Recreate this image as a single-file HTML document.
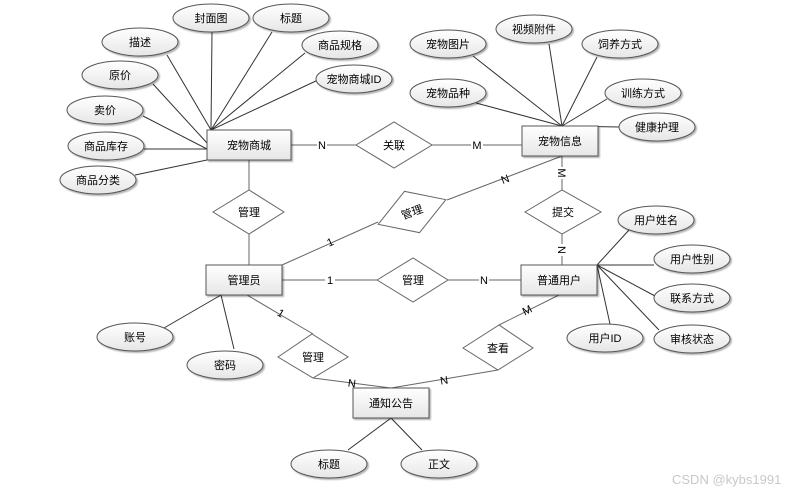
<!DOCTYPE html>
<html><head><meta charset="utf-8"><style>
html,body{margin:0;padding:0;background:#fff;}
svg{display:block;}
text{font-family:"Liberation Sans","Noto Sans CJK SC",sans-serif;font-size:11px;fill:#000;}
.l{stroke:#333;stroke-width:1;fill:none;}
.g{stroke:#666;stroke-width:1;fill:none;}
.e{fill:url(#gr);stroke:#555;stroke-width:1;filter:url(#sh);}
.r{fill:url(#gr);stroke:#555;stroke-width:1;filter:url(#sh);}
.d{fill:#fff;stroke:#666;stroke-width:1;}
.lb{fill:#fff;}
</style></head><body>
<svg width="809" height="495" viewBox="0 0 809 495" xmlns="http://www.w3.org/2000/svg">
<defs>
<linearGradient id="gr" x1="0" y1="0" x2="0" y2="1"><stop offset="0" stop-color="#ffffff"/><stop offset="1" stop-color="#e6e6e6"/></linearGradient>
<filter id="sh" x="-10%" y="-10%" width="130%" height="140%"><feDropShadow dx="1.5" dy="1.5" stdDeviation="0.8" flood-color="#000" flood-opacity="0.3"/></filter>
</defs>
<!-- attribute lines: 宠物商城 -->
<g class="l">
<line x1="212" y1="32" x2="211" y2="130"/>
<line x1="272" y1="32" x2="211" y2="130"/>
<line x1="167" y1="55" x2="211" y2="130"/>
<line x1="305" y1="53" x2="211" y2="130"/>
<line x1="318" y1="80" x2="211" y2="130"/>
<line x1="153" y1="84" x2="207" y2="143"/>
<line x1="143" y1="116" x2="207" y2="149"/>
<line x1="144" y1="149" x2="207" y2="149"/>
<line x1="135" y1="175" x2="207" y2="160"/>
<!-- 宠物信息 -->
<line x1="473" y1="56" x2="562" y2="126"/>
<line x1="549" y1="44" x2="562" y2="126"/>
<line x1="597" y1="57" x2="562" y2="126"/>
<line x1="476" y1="103" x2="562" y2="126"/>
<line x1="607" y1="99" x2="562" y2="126"/>
<line x1="562" y1="126" x2="619" y2="127"/>
<!-- 普通用户 -->
<line x1="629" y1="230" x2="597" y2="265"/>
<line x1="654" y1="265" x2="597" y2="265"/>
<line x1="655" y1="296" x2="597" y2="265"/>
<line x1="659" y1="330" x2="597" y2="265"/>
<line x1="610" y1="324" x2="597" y2="265"/>
<!-- 管理员 -->
<line x1="164" y1="328" x2="221" y2="295"/>
<line x1="234" y1="349" x2="221" y2="295"/>
<!-- 通知公告 -->
<line x1="348" y1="450" x2="391" y2="418"/>
<line x1="422" y1="450" x2="391" y2="418"/>
</g>
<!-- relation lines -->
<g class="g">
<line x1="291" y1="145" x2="356" y2="145"/>
<line x1="432" y1="145" x2="522" y2="145"/>
<line x1="249" y1="160" x2="249" y2="190"/>
<line x1="249" y1="234" x2="249" y2="265"/>
<line x1="282" y1="265" x2="378" y2="222"/>
<line x1="447" y1="200" x2="562" y2="156"/>
<line x1="562" y1="156" x2="562" y2="190"/>
<line x1="562" y1="234" x2="562" y2="265"/>
<line x1="282" y1="280" x2="377" y2="280"/>
<line x1="448" y1="280" x2="521" y2="280"/>
<line x1="247" y1="295" x2="313" y2="334"/>
<line x1="313" y1="378" x2="391" y2="388"/>
<line x1="498" y1="370" x2="391" y2="388"/>
<line x1="559" y1="295" x2="499" y2="325"/>
</g>
<!-- cardinality labels -->
<g>
<rect class="lb" x="317" y="139" width="10" height="12"/><text x="322" y="149" text-anchor="middle">N</text>
<rect class="lb" x="471" y="139" width="12" height="12"/><text x="477" y="149" text-anchor="middle">M</text>
<text x="330" y="246" text-anchor="middle" transform="rotate(-24 330 242)">1</text>
<text x="505" y="183" text-anchor="middle" transform="rotate(-21 505 179)">N</text>
<rect class="lb" x="556" y="167" width="12" height="12"/><text x="562" y="177" text-anchor="middle" transform="rotate(90 562 173)">M</text>
<rect class="lb" x="556" y="244" width="12" height="12"/><text x="562" y="254" text-anchor="middle" transform="rotate(90 562 250)">N</text>
<rect class="lb" x="325" y="274" width="10" height="12"/><text x="330" y="284" text-anchor="middle">1</text>
<rect class="lb" x="479" y="274" width="10" height="12"/><text x="484" y="284" text-anchor="middle">N</text>
<text x="281" y="317" text-anchor="middle" transform="rotate(30 281 313)">1</text>
<text x="352" y="387" text-anchor="middle" transform="rotate(7 352 383)">N</text>
<text x="444" y="384" text-anchor="middle" transform="rotate(-9 444 380)">N</text>
<text x="527" y="314" text-anchor="middle" transform="rotate(-27 527 310)">M</text>
</g>
<!-- diamonds -->
<polygon class="d" points="356,145 394,122 432,145 394,168"/><text x="394" y="149" text-anchor="middle">关联</text>
<polygon class="d" points="213,212 249,190 284,212 249,234"/><text x="249" y="216" text-anchor="middle">管理</text>
<g transform="rotate(-20 412 212)"><polygon class="d" points="376,212 412,190 448,212 412,234"/><text x="412" y="216" text-anchor="middle">管理</text></g>
<polygon class="d" points="525,212 562,190 601,212 562,234"/><text x="563" y="216" text-anchor="middle">提交</text>
<polygon class="d" points="377,280 413,258 448,280 413,302"/><text x="413" y="284" text-anchor="middle">管理</text>
<polygon class="d" points="278,357 312,334 348,357 313,378"/><text x="313" y="361" text-anchor="middle">管理</text>
<polygon class="d" points="463,348 499,325 533,348 498,370"/><text x="498" y="352" text-anchor="middle">查看</text>
<!-- entities -->
<rect class="r" x="207" y="130" width="84" height="30"/><text x="249" y="149" text-anchor="middle">宠物商城</text>
<rect class="r" x="522" y="126" width="76" height="30"/><text x="560" y="145" text-anchor="middle">宠物信息</text>
<rect class="r" x="206" y="265" width="76" height="30"/><text x="244" y="284" text-anchor="middle">管理员</text>
<rect class="r" x="521" y="265" width="76" height="30"/><text x="559" y="284" text-anchor="middle">普通用户</text>
<rect class="r" x="353" y="388" width="76" height="30"/><text x="391" y="407" text-anchor="middle">通知公告</text>
<!-- ellipses -->
<g>
<ellipse class="e" cx="211" cy="18" rx="38" ry="14"/><text x="211" y="22" text-anchor="middle">封面图</text>
<ellipse class="e" cx="291" cy="18" rx="38" ry="14"/><text x="291" y="22" text-anchor="middle">标题</text>
<ellipse class="e" cx="140" cy="42" rx="38" ry="14"/><text x="140" y="46" text-anchor="middle">描述</text>
<ellipse class="e" cx="340" cy="45" rx="38" ry="14"/><text x="340" y="49" text-anchor="middle">商品规格</text>
<ellipse class="e" cx="354" cy="79" rx="38" ry="14"/><text x="354" y="83" text-anchor="middle">宠物商城ID</text>
<ellipse class="e" cx="120" cy="75" rx="38" ry="14"/><text x="120" y="79" text-anchor="middle">原价</text>
<ellipse class="e" cx="105" cy="110" rx="38" ry="14"/><text x="105" y="114" text-anchor="middle">卖价</text>
<ellipse class="e" cx="106" cy="146" rx="38" ry="14"/><text x="106" y="150" text-anchor="middle">商品库存</text>
<ellipse class="e" cx="98" cy="180" rx="38" ry="14"/><text x="98" y="184" text-anchor="middle">商品分类</text>
<ellipse class="e" cx="448" cy="44" rx="38" ry="14"/><text x="448" y="48" text-anchor="middle">宠物图片</text>
<ellipse class="e" cx="534" cy="29" rx="38" ry="14"/><text x="534" y="33" text-anchor="middle">视频附件</text>
<ellipse class="e" cx="620" cy="44" rx="38" ry="14"/><text x="620" y="48" text-anchor="middle">饲养方式</text>
<ellipse class="e" cx="448" cy="93" rx="38" ry="14"/><text x="448" y="97" text-anchor="middle">宠物品种</text>
<ellipse class="e" cx="643" cy="93" rx="38" ry="14"/><text x="643" y="97" text-anchor="middle">训练方式</text>
<ellipse class="e" cx="657" cy="127" rx="38" ry="14"/><text x="657" y="131" text-anchor="middle">健康护理</text>
<ellipse class="e" cx="656" cy="220" rx="38" ry="14"/><text x="656" y="224" text-anchor="middle">用户姓名</text>
<ellipse class="e" cx="692" cy="259" rx="38" ry="14"/><text x="692" y="263" text-anchor="middle">用户性别</text>
<ellipse class="e" cx="692" cy="298" rx="38" ry="14"/><text x="692" y="302" text-anchor="middle">联系方式</text>
<ellipse class="e" cx="692" cy="339" rx="38" ry="14"/><text x="692" y="343" text-anchor="middle">审核状态</text>
<ellipse class="e" cx="605" cy="338" rx="38" ry="14"/><text x="605" y="342" text-anchor="middle">用户ID</text>
<ellipse class="e" cx="135" cy="337" rx="38" ry="14"/><text x="135" y="341" text-anchor="middle">账号</text>
<ellipse class="e" cx="225" cy="365" rx="38" ry="14"/><text x="225" y="369" text-anchor="middle">密码</text>
<ellipse class="e" cx="329" cy="464" rx="38" ry="14"/><text x="329" y="468" text-anchor="middle">标题</text>
<ellipse class="e" cx="439" cy="464" rx="38" ry="14"/><text x="439" y="468" text-anchor="middle">正文</text>
</g>
<text x="672" y="484" style="font-size:13px;fill:#c8c8c8;">CSDN @kybs1991</text>
</svg>
</body></html>
